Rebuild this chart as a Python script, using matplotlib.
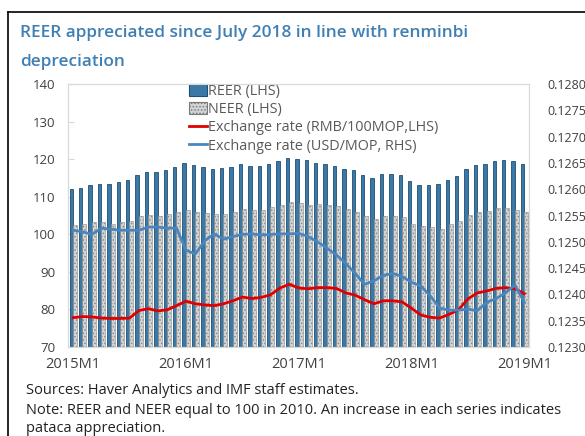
import numpy as np
import matplotlib
matplotlib.use('Agg')
import matplotlib.pyplot as plt
from matplotlib.patches import Patch
from matplotlib.lines import Line2D

plt.rcParams['font.family'] = ['Open Sans', 'DejaVu Sans']
plt.rcParams['hatch.color'] = '#7a7a7a'
plt.rcParams['hatch.linewidth'] = 0.7

# monthly data 2015M1 .. 2019M1
tick_labels = ['2015M1', '2016M1', '2017M1', '2018M1', '2019M1']
reer = [112.0, 112.2, 113.2, 113.4, 113.4, 113.9, 114.4, 115.9, 116.7, 116.7,
        117.2, 117.8, 118.9, 118.5, 118.0, 117.3, 117.6, 118.0, 118.8, 118.1,
        118.3, 118.8, 119.6, 120.3, 120.0, 119.8, 119.1, 118.7, 118.2, 117.5,
        117.1, 115.8, 115.1, 116.0, 116.1, 115.8, 114.3, 113.2, 113.0, 113.3,
        114.5, 115.5, 117.5, 118.4, 118.8, 119.4, 119.7, 119.6, 118.7]
neer = [102.4, 102.7, 103.2, 103.2, 102.8, 103.2, 103.5, 104.8, 105.2, 105.0,
        105.4, 105.8, 106.5, 105.9, 105.7, 105.4, 105.5, 105.9, 106.7, 106.5,
        106.5, 107.2, 107.9, 108.6, 108.4, 107.8, 108.0, 107.8, 107.4, 106.7,
        106.0, 104.9, 104.1, 105.0, 105.0, 104.5, 102.8, 102.1, 101.9, 101.5,
        102.8, 103.6, 105.2, 106.0, 106.3, 107.0, 107.0, 106.5, 105.9]
rmb = [77.8, 78.1, 78.0, 77.7, 77.6, 77.6, 77.7, 79.7, 80.2, 79.6,
       79.9, 81.0, 82.2, 81.5, 81.2, 81.0, 81.5, 82.3, 83.3, 82.9,
       83.2, 83.9, 85.7, 86.7, 85.7, 85.5, 85.8, 85.8, 85.6, 84.4,
       83.8, 82.6, 81.5, 82.3, 82.3, 82.0, 80.3, 78.5, 77.9, 77.7,
       78.7, 79.9, 82.8, 84.4, 84.9, 85.6, 85.8, 85.5, 84.2]
usd = [0.12522, 0.12519, 0.12514, 0.12526, 0.12524, 0.12522, 0.12522, 0.12522, 0.12528, 0.12528,
       0.12526, 0.12526, 0.12484, 0.12477, 0.12502, 0.12515, 0.12505, 0.12510, 0.12514, 0.12515,
       0.12513, 0.12514, 0.12515, 0.12515, 0.12516, 0.12510, 0.12500, 0.12488, 0.12475, 0.12459,
       0.12440, 0.12419, 0.12426, 0.12436, 0.12440, 0.12434, 0.12423, 0.12416, 0.12397, 0.12374,
       0.12370, 0.12370, 0.12372, 0.12369, 0.12385, 0.12392, 0.12403, 0.12418, 0.12385]

x = np.arange(len(reer))

fig = plt.figure(figsize=(5.85, 4.36), dpi=100)
ax = fig.add_axes([68/585, 1-347/436, 461/585, 263/436])

blue_bar = '#3a79a6'
ax.bar(x - 0.2, reer, width=0.36, color=blue_bar, edgecolor='#1f4f73', linewidth=0.6, zorder=2)
ax.bar(x + 0.2, neer, width=0.42, color='#d4d4d4', edgecolor='#8a8a8a', hatch='.....',
       linewidth=0.4, zorder=2)
ax.plot(x, rmb, color='#e00000', lw=2.0, zorder=4)
ax.set_ylim(70, 140)
ax.set_xlim(-0.55, 48.5)
ax.set_yticks(range(70, 141, 10))
ax.set_xticks([0, 12, 24, 36, 48])
ax.set_xticklabels(tick_labels)

ax2 = ax.twinx()
ax2.plot(x, usd, color='#4a86bd', lw=2.0, zorder=5)
ax2.set_ylim(0.1230, 0.1280)
ax2.set_yticks(np.arange(0.1230, 0.12801, 0.0005))
ax2.set_yticklabels(['%.4f' % v for v in np.arange(0.1230, 0.12801, 0.0005)])

for a in (ax, ax2):
    for s in a.spines.values():
        s.set_color('#d9d9d9')
        s.set_linewidth(0.8)
ax.tick_params(axis='y', direction='in', length=4, color='#d9d9d9', labelsize=9.5,
               labelcolor='#404040', pad=9)
ax.tick_params(axis='x', length=0, labelsize=10.5, labelcolor='#404040', pad=7)
ax2.tick_params(axis='y', length=0, labelsize=9, labelcolor='#404040', pad=13)

handles = [Patch(facecolor=blue_bar, edgecolor='#1f4f73', linewidth=0.8),
           Patch(facecolor='#d4d4d4', edgecolor='#7a7a7a', hatch='.....', linewidth=0.8),
           Line2D([], [], color='#e00000', lw=2.0),
           Line2D([], [], color='#4a86bd', lw=2.0)]
labels = ['REER (LHS)', 'NEER (LHS)', 'Exchange rate (RMB/100MOP,LHS)',
          'Exchange rate (USD/MOP, RHS)']
leg = ax.legend(handles, labels, loc='upper left', bbox_to_anchor=(0.262, 1.0),
                frameon=False, fontsize=10.4, handlelength=1.25, handleheight=0.9,
                handletextpad=0.1, labelspacing=0.22, borderpad=0, borderaxespad=0)
for t in leg.get_texts():
    t.set_color('#595959')
leg.set_zorder(10)

# title and notes
fig.text(20/585, 1-33/436, 'REER appreciated since July 2018 in line with renminbi',
         fontsize=12.4, fontweight='semibold', color='#3e7fb4', va='center')
fig.text(20/585, 1-62/436, 'depreciation', fontsize=12.4, fontweight='semibold',
         color='#3e7fb4', va='center')
fig.text(26/585, 1-390/436, 'Sources: Haver Analytics and IMF staff estimates.',
         fontsize=10.5, color='#222222', va='center')
fig.text(26/585, 1-410/436,
         'Note: REER and NEER equal to 100 in 2010. An increase in each series indicates',
         fontsize=10.5, color='#222222', va='center')
fig.text(26/585, 1-428/436, 'pataca appreciation.', fontsize=10.5, color='#222222',
         va='center')

# black frame around the exhibit
fig.add_artist(Line2D([8/585, 8/585], [0, 1-12/436], color='black', lw=1.2,
                      transform=fig.transFigure))
fig.add_artist(Line2D([8/585, 1], [1-12/436, 1-12/436], color='black', lw=1.2,
                      transform=fig.transFigure))

fig.savefig('out.png', dpi=100)
